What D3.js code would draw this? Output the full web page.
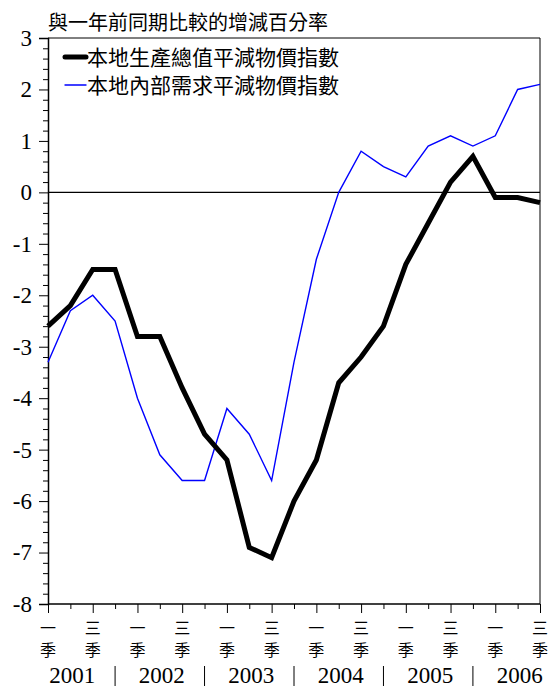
<!DOCTYPE html>
<html><head><meta charset="utf-8">
<script src="https://cdn.jsdelivr.net/npm/d3@7"></script>
<style>body{margin:0;background:#fff} .serif{font-family:"Liberation Serif","Times New Roman",Times,serif} .cjk{font-family:"Noto Sans CJK TC","Noto Sans CJK SC",sans-serif}</style>
</head><body>
<svg id="c" width="551" height="688"></svg>
<script>
const quarters = ["2001Q1","2001Q2","2001Q3","2001Q4","2002Q1","2002Q2","2002Q3","2002Q4","2003Q1","2003Q2","2003Q3","2003Q4","2004Q1","2004Q2","2004Q3","2004Q4","2005Q1","2005Q2","2005Q3","2005Q4","2006Q1","2006Q2","2006Q3"];
const gdpDeflator = [-2.6,-2.2,-1.5,-1.5,-2.8,-2.8,-3.8,-4.7,-5.2,-6.9,-7.1,-6.0,-5.2,-3.7,-3.2,-2.6,-1.4,-0.6,0.2,0.7,-0.1,-0.1,-0.2];
const domesticDeflator = [-3.3,-2.3,-2.0,-2.5,-4.0,-5.1,-5.6,-5.6,-4.2,-4.7,-5.6,-3.3,-1.3,0.0,0.8,0.5,0.3,0.9,1.1,0.9,1.1,2.0,2.1];
const seriesNames = ["本地生產總值平減物價指數","本地內部需求平減物價指數"];
const years = ["2001","2002","2003","2004","2005","2006"];
const quarterLabels = {1:"一",3:"三"};
const yTicks = [3,2,1,0,-1,-2,-3,-4,-5,-6,-7,-8];
const title = "與一年前同期比較的增減百分率";

const svg = d3.select("#c");
const L=48, R=540, T=38, B=604;
const x = d3.scalePoint().domain(quarters).range([L,R]);
const y = d3.scaleLinear().domain([-8,3]).range([B,T]);

// frame top/right
svg.append("path").attr("d",`M${L},${T}H${R}V${B}`).attr("fill","none").attr("stroke","#000").attr("stroke-width",1);

// y axis
const minor = d3.range(-8,3.0001,0.2).map(v=>+v.toFixed(1)).filter(v=>Math.abs(v-Math.round(v))>1e-6);
svg.append("g").attr("transform",`translate(${L},0)`)
  .call(d3.axisLeft(y).tickValues(minor).tickSize(5).tickFormat(""))
  .call(g=>g.select(".domain").remove());
const ya = svg.append("g").attr("transform",`translate(${L},0)`)
  .call(d3.axisLeft(y).tickValues(yTicks).tickSize(9).tickPadding(7).tickFormat(d=>String(d)));
ya.attr("font-family",null).attr("font-size",null);
ya.select(".domain").attr("stroke-width",1.5);
ya.selectAll("text").attr("class","serif").style("font-size","23px").attr("fill","#000");

// x axis
const xa = svg.append("g").attr("transform",`translate(0,${B})`)
  .call(d3.axisBottom(x).tickSize(5).tickFormat(""));
xa.select(".domain").attr("d",`M${L},0H${R}`).attr("stroke-width",1.5);
xa.selectAll(".tick line").attr("y2",(d,i)=>i%2===0?9:5);

// quarter labels
quarters.forEach((q,i)=>{
  const qn = +q.slice(-1);
  if(quarterLabels[qn]){
    const g = svg.append("g").attr("class","cjk").style("font-size","16px").attr("text-anchor","middle").attr("fill","#000");
    g.append("text").attr("x",x(q)).attr("y",634).text(quarterLabels[qn]);
    g.append("text").attr("x",x(q)).attr("y",656).text("季");
  }
});
// year labels
years.forEach((yr,i)=>{
  svg.append("text").attr("x",x(yr+"Q2")+2).attr("y",683).attr("text-anchor","middle")
    .attr("class","serif").style("font-size","23px").text(yr);
  if(i<years.length-1){
    svg.append("line").attr("x1",x(yr+"Q4")).attr("x2",x(yr+"Q4")).attr("y1",666).attr("y2",686)
      .attr("stroke","#000").attr("stroke-width",1);
  }
});

// zero line
svg.append("line").attr("x1",L).attr("x2",R).attr("y1",y(0)).attr("y2",y(0)).attr("stroke","#000").attr("stroke-width",1.2);

// lines
const line = d3.line().x((d,i)=>x(quarters[i])).y(d=>y(d));
svg.append("path").datum(domesticDeflator).attr("d",line).attr("fill","none").attr("stroke","#0000ff").attr("stroke-width",1.4);
svg.append("path").datum(gdpDeflator).attr("d",line).attr("fill","none").attr("stroke","#000").attr("stroke-width",5).attr("stroke-linejoin","miter");

// title
svg.append("text").attr("x",48).attr("y",30).attr("class","cjk").style("font-size","20px").text(title);

// legend
const leg = [{c:"#000",w:5},{c:"#0000ff",w:1.4}];
seriesNames.forEach((n,i)=>{
  const yy = 57 + i*28;
  svg.append("line").attr("x1",65).attr("x2",86).attr("y1",yy).attr("y2",yy).attr("stroke",leg[i].c).attr("stroke-width",leg[i].w).attr("stroke-linecap","round");
  svg.append("text").attr("x",87).attr("y",yy+8).attr("class","cjk").style("font-size","21px").text(n);
});
</script>
</body></html>
